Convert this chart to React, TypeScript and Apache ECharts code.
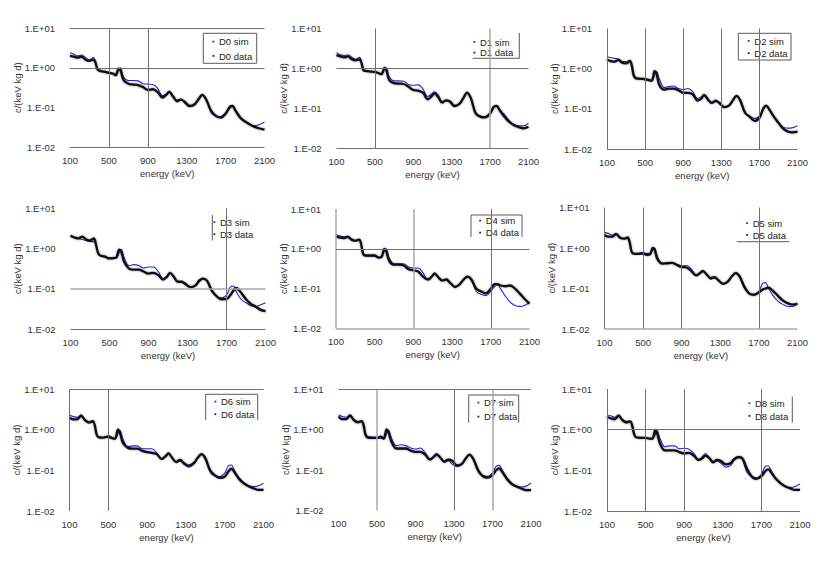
import React, { useEffect, useRef } from "react";
import * as echarts from "echarts";

// energy grid (keV) shared by all series
const energy = [100,140,180,220,260,300,340,360,380,400,450,500,540,570,600,620,650,700,750,800,850,900,950,1000,1050,1090,1120,1160,1200,1240,1280,1330,1380,1420,1460,1500,1550,1600,1650,1700,1740,1770,1800,1850,1900,1950,2000,2050,2100];

const sim0 = [2.4,2.2,2.0,2.1,1.8,1.6,1.8,1.5,0.95,0.85,0.8,0.75,0.72,0.66,0.9,1.0,0.6,0.48,0.48,0.47,0.4,0.39,0.38,0.31,0.2,0.22,0.26,0.2,0.155,0.165,0.13,0.105,0.12,0.16,0.21,0.17,0.075,0.062,0.06,0.075,0.11,0.115,0.09,0.06,0.045,0.037,0.035,0.038,0.043];
const data0 = [2.0,1.9,1.8,1.9,1.6,1.5,1.6,1.4,0.95,0.85,0.8,0.75,0.72,0.65,0.95,0.85,0.5,0.4,0.38,0.37,0.33,0.28,0.29,0.25,0.18,0.21,0.25,0.19,0.145,0.16,0.14,0.11,0.12,0.16,0.21,0.16,0.085,0.062,0.056,0.07,0.1,0.11,0.085,0.056,0.045,0.038,0.033,0.03,0.028];
const sim1 = [2.5,2.2,2.1,2.2,1.9,1.7,1.9,1.5,0.95,0.88,0.84,0.82,0.76,0.72,0.95,1.02,0.62,0.49,0.49,0.48,0.4,0.38,0.39,0.31,0.2,0.23,0.26,0.22,0.15,0.155,0.155,0.12,0.13,0.18,0.24,0.18,0.08,0.065,0.063,0.08,0.115,0.12,0.095,0.07,0.05,0.04,0.037,0.037,0.043];
const data1 = [2.15,2.0,1.9,2.0,1.7,1.6,1.7,1.4,0.9,0.87,0.84,0.82,0.76,0.72,1.04,0.9,0.51,0.43,0.42,0.41,0.35,0.29,0.28,0.25,0.17,0.2,0.24,0.19,0.14,0.16,0.15,0.115,0.13,0.18,0.25,0.18,0.075,0.062,0.06,0.075,0.11,0.115,0.09,0.062,0.046,0.038,0.034,0.032,0.035];
const sim2 = [1.95,1.9,1.8,1.75,1.5,1.5,1.6,1.3,0.75,0.6,0.55,0.53,0.5,0.5,0.7,0.85,0.55,0.34,0.36,0.37,0.32,0.3,0.32,0.27,0.18,0.2,0.23,0.18,0.14,0.15,0.14,0.11,0.12,0.16,0.21,0.16,0.08,0.065,0.058,0.065,0.1,0.12,0.1,0.065,0.045,0.035,0.033,0.034,0.038];
const data2 = [1.67,1.55,1.5,1.65,1.4,1.35,1.55,1.2,0.68,0.58,0.56,0.55,0.52,0.5,0.87,0.75,0.39,0.3,0.32,0.32,0.29,0.25,0.25,0.23,0.16,0.18,0.22,0.17,0.14,0.16,0.14,0.11,0.12,0.16,0.21,0.16,0.08,0.063,0.05,0.06,0.1,0.12,0.1,0.065,0.045,0.032,0.027,0.026,0.027];
const sim3 = [2.0,1.9,1.8,1.7,1.6,1.5,1.5,1.3,0.8,0.68,0.62,0.58,0.58,0.58,0.8,0.95,0.6,0.38,0.4,0.38,0.33,0.35,0.35,0.27,0.18,0.21,0.25,0.19,0.15,0.15,0.14,0.11,0.12,0.15,0.18,0.16,0.085,0.065,0.06,0.07,0.11,0.118,0.085,0.055,0.045,0.038,0.036,0.04,0.045];
const data3 = [2.1,1.9,1.8,2.0,1.7,1.6,1.8,1.3,0.82,0.68,0.64,0.57,0.58,0.6,0.95,0.85,0.47,0.32,0.3,0.3,0.27,0.24,0.25,0.22,0.17,0.2,0.25,0.2,0.15,0.15,0.13,0.11,0.12,0.16,0.18,0.16,0.09,0.065,0.055,0.056,0.07,0.09,0.105,0.08,0.055,0.042,0.036,0.03,0.028];
const sim4 = [2.3,2.1,2.0,2.1,1.8,1.6,1.7,1.3,0.8,0.7,0.65,0.65,0.62,0.62,0.9,1.0,0.6,0.42,0.42,0.42,0.35,0.33,0.33,0.25,0.17,0.2,0.24,0.19,0.16,0.17,0.14,0.11,0.13,0.17,0.2,0.16,0.085,0.072,0.067,0.085,0.115,0.125,0.1,0.065,0.046,0.038,0.036,0.038,0.045];
const data4 = [2.05,1.9,1.85,2.0,1.7,1.6,1.7,1.3,0.75,0.68,0.68,0.68,0.6,0.62,1.0,0.85,0.5,0.4,0.4,0.38,0.31,0.29,0.27,0.2,0.17,0.2,0.24,0.19,0.16,0.17,0.14,0.11,0.13,0.17,0.2,0.17,0.1,0.085,0.076,0.1,0.13,0.13,0.12,0.115,0.12,0.1,0.075,0.055,0.042];
const sim5 = [2.4,2.3,2.1,2.3,1.9,1.7,1.9,1.5,0.85,0.73,0.7,0.7,0.65,0.68,0.9,1.0,0.6,0.42,0.42,0.43,0.39,0.36,0.37,0.3,0.21,0.25,0.28,0.22,0.17,0.18,0.16,0.13,0.15,0.2,0.25,0.19,0.1,0.075,0.07,0.085,0.135,0.14,0.1,0.065,0.048,0.04,0.036,0.036,0.042];
const data5 = [2.1,1.9,1.9,2.2,1.8,1.7,1.8,1.4,0.83,0.73,0.72,0.75,0.7,0.7,1.0,0.9,0.52,0.41,0.42,0.43,0.38,0.34,0.33,0.27,0.21,0.24,0.27,0.22,0.18,0.19,0.16,0.13,0.15,0.2,0.24,0.2,0.11,0.075,0.07,0.08,0.095,0.1,0.105,0.085,0.065,0.05,0.043,0.04,0.042];
const sim6 = [2.3,2.1,2.0,2.3,1.8,1.5,1.7,1.3,0.8,0.68,0.64,0.64,0.6,0.6,0.8,0.95,0.6,0.38,0.4,0.4,0.34,0.34,0.34,0.27,0.19,0.23,0.27,0.2,0.16,0.17,0.14,0.12,0.14,0.2,0.25,0.19,0.09,0.072,0.07,0.085,0.13,0.135,0.1,0.065,0.05,0.042,0.04,0.042,0.048];
const data6 = [1.97,1.8,1.8,2.2,1.7,1.5,1.6,1.3,0.75,0.65,0.64,0.68,0.62,0.6,1.0,0.85,0.48,0.36,0.34,0.34,0.3,0.28,0.27,0.25,0.19,0.22,0.26,0.2,0.16,0.18,0.15,0.13,0.15,0.2,0.25,0.2,0.1,0.075,0.065,0.07,0.095,0.11,0.09,0.06,0.047,0.04,0.036,0.033,0.033];
const sim7 = [2.3,2.1,2.0,2.3,1.8,1.6,1.6,1.3,0.8,0.68,0.64,0.64,0.6,0.58,0.8,0.95,0.62,0.4,0.42,0.4,0.35,0.33,0.35,0.27,0.19,0.22,0.26,0.2,0.16,0.17,0.14,0.12,0.14,0.19,0.24,0.18,0.09,0.072,0.07,0.085,0.125,0.13,0.1,0.065,0.048,0.04,0.038,0.04,0.047];
const data7 = [2.1,1.8,1.8,2.2,1.7,1.5,1.6,1.3,0.75,0.64,0.62,0.62,0.67,0.6,1.0,0.85,0.5,0.34,0.34,0.34,0.3,0.28,0.28,0.24,0.18,0.21,0.24,0.2,0.16,0.18,0.17,0.13,0.14,0.19,0.24,0.19,0.1,0.07,0.065,0.075,0.1,0.11,0.09,0.06,0.045,0.039,0.035,0.032,0.032];
const sim8 = [2.3,2.2,2.0,2.3,1.8,1.6,1.6,1.2,0.75,0.65,0.63,0.62,0.6,0.58,0.75,0.95,0.6,0.38,0.4,0.4,0.34,0.35,0.33,0.26,0.18,0.22,0.26,0.2,0.15,0.17,0.15,0.12,0.13,0.18,0.22,0.19,0.09,0.07,0.065,0.08,0.125,0.13,0.1,0.063,0.047,0.04,0.038,0.04,0.046];
const data8 = [2.05,1.9,1.8,2.2,1.7,1.5,1.6,1.3,0.8,0.65,0.63,0.63,0.6,0.6,0.97,0.8,0.45,0.31,0.31,0.31,0.28,0.26,0.27,0.23,0.18,0.2,0.23,0.2,0.16,0.18,0.17,0.14,0.15,0.19,0.21,0.2,0.11,0.07,0.062,0.072,0.095,0.105,0.09,0.062,0.048,0.04,0.036,0.033,0.033];

const panelNames = ["D0", "D1", "D2", "D3", "D4", "D5", "D6", "D7", "D8"];
const simSeries = [sim0, sim1, sim2, sim3, sim4, sim5, sim6, sim7, sim8];
const dataSeries = [data0, data1, data2, data3, data4, data5, data6, data7, data8];

const xMin = 100;
const xMax = 2100;
const xStep = 400;
const yTicks = [0.01, 0.1, 1, 10];
const yTickLabels = ["1.E-02", "1.E-01", "1.E+00", "1.E+01"];

// reference lines (axis values) drawn in each panel
const vLinesDark = [[500, 900], [500], [100, 500, 900, 1300, 1700], [1700], [1700], [100, 500, 900, 1700], [100, 500], [1300], [100, 500, 900, 1700]];
const vLinesLight = [[], [1700], [], [], [100, 900], [], [], [500, 1700], []];
const hLinesDark = [[10, 1, 0.01], [1, 0.01], [0.01], [0.01], [1], [], [10], [10], [1, 0.01]];
const hLinesLight = [[], [], [], [0.1], [0.01], [0.01], [], [], []];

const FONT = "'Liberation Sans', Arial, sans-serif";
const FS = 9.5;
const TEXT = "#333";
const BLUE = "#2424e0";

// plot-area layout in pixels
const layout = [
  { l: 70, r: 264.5, t: 28, b: 147.5 },
  { l: 336.5, r: 528.5, t: 28.5, b: 148.5 },
  { l: 607, r: 797.5, t: 28.5, b: 149 },
  { l: 70.5, r: 265.5, t: 208.5, b: 329 },
  { l: 336, r: 529.5, t: 209, b: 328.5 },
  { l: 604.5, r: 797.5, t: 207.5, b: 329 },
  { l: 69.5, r: 263.5, t: 389, b: 511 },
  { l: 338.5, r: 531, t: 389, b: 510.5 },
  { l: 607, r: 800, t: 389, b: 511 },
];

const legendLayout = [
  { tx: 219, y1: 41.7, y2: 56, box: [203.3, 33.3, 256.7, 63.3], edges: "ltrb" },
  { tx: 480, y1: 42, y2: 52.7, box: [472.7, 33, 519.3, 58.3], edges: "rb" },
  { tx: 754.3, y1: 41, y2: 53.3, box: [738.3, 33.3, 791, 60], edges: "ltrb" },
  { tx: 220, y1: 222.3, y2: 234.3, box: [212.3, 215, 262, 240.5], edges: "l" },
  { tx: 485.7, y1: 220.7, y2: 232.7, box: [471, 215, 522, 237], edges: "ltr" },
  { tx: 752.7, y1: 223.3, y2: 235, box: [736.7, 215, 789.3, 241.7], edges: "b" },
  { tx: 221, y1: 401.7, y2: 414.3, box: [205.7, 394.3, 257.7, 420], edges: "ltr" },
  { tx: 484, y1: 402.7, y2: 416.7, box: [468.7, 395, 518.7, 422.7], edges: "ltr" },
  { tx: 755, y1: 403.3, y2: 416, box: [740, 396.7, 792.3, 422.7], edges: "r" },
];

function yLabel(v: number): string {
  for (let i = 0; i < yTicks.length; i++) {
    if (Math.abs(Math.log10(v) - Math.log10(yTicks[i])) < 0.01) return yTickLabels[i];
  }
  return "";
}

function buildOption() {
  const grid: any[] = [];
  const xAxis: any[] = [];
  const yAxis: any[] = [];
  const series: any[] = [];
  const graphic: any[] = [];

  panelNames.forEach((name, i) => {
    const p = layout[i];
    grid.push({ left: p.l, top: p.t, width: p.r - p.l, height: p.b - p.t });
    xAxis.push({
      type: "value",
      gridIndex: i,
      min: xMin,
      max: xMax,
      interval: xStep,
      axisLine: { show: false },
      axisTick: { show: false },
      splitLine: { show: false },
      axisLabel: { fontSize: FS, color: TEXT, fontFamily: FONT, margin: 8, formatter: (v: number) => String(v) },
      name: "energy (keV)",
      nameLocation: "middle",
      nameGap: 21,
      nameMoveOverlap: false,
      nameTextStyle: { fontSize: FS, color: TEXT, fontFamily: FONT },
    });
    yAxis.push({
      type: "log",
      logBase: 10,
      gridIndex: i,
      min: yTicks[0],
      max: yTicks[yTicks.length - 1],
      axisLine: { show: false },
      axisTick: { show: false },
      splitLine: { show: false },
      axisLabel: { fontSize: FS, color: TEXT, fontFamily: FONT, margin: 15, formatter: (v: number) => yLabel(v) },
      name: "c/(keV kg d)",
      nameLocation: "middle",
      nameGap: 48,
      nameMoveOverlap: false,
      nameRotate: 90,
      nameTextStyle: { fontSize: FS, color: TEXT, fontFamily: FONT },
    });

    const dark = { color: "#707070", width: 1, type: "solid" };
    const light = { color: "#a8a8a8", width: 1.5, type: "solid" };
    const mlData: any[] = [
      ...vLinesDark[i].map((v) => ({ xAxis: v, lineStyle: dark })),
      ...vLinesLight[i].map((v) => ({ xAxis: v, lineStyle: light })),
      ...hLinesDark[i].map((v) => ({ yAxis: v, lineStyle: dark })),
      ...hLinesLight[i].map((v) => ({ yAxis: v, lineStyle: light })),
    ];
    series.push({
      type: "line",
      name: name + " lines",
      xAxisIndex: i,
      yAxisIndex: i,
      data: [],
      z: 1,
      silent: true,
      markLine: { silent: true, symbol: ["none", "none"], label: { show: false }, data: mlData },
    });
    series.push({
      type: "line",
      name: name + " sim",
      xAxisIndex: i,
      yAxisIndex: i,
      data: energy.map((e, k) => [e, simSeries[i][k]]),
      showSymbol: false,
      smooth: 0.35,
      z: 2,
      lineStyle: { color: BLUE, width: 1.1 },
      itemStyle: { color: BLUE },
    });
    series.push({
      type: "line",
      name: name + " data",
      xAxisIndex: i,
      yAxisIndex: i,
      data: energy.map((e, k) => [e, dataSeries[i][k]]),
      showSymbol: false,
      smooth: 0.35,
      z: 3,
      lineStyle: { color: "#111", width: 2.3, shadowColor: "rgba(0,0,0,0.45)", shadowBlur: 2.5 },
      itemStyle: { color: "#111" },
    });

    const L = legendLayout[i];
    const [bl, bt, br, bb] = L.box;
    const edgeStyle = { stroke: "#5a5a5a", lineWidth: 1 };
    if (L.edges.includes("l")) graphic.push({ type: "line", shape: { x1: bl, y1: bt, x2: bl, y2: bb }, style: edgeStyle });
    if (L.edges.includes("r")) graphic.push({ type: "line", shape: { x1: br, y1: bt, x2: br, y2: bb }, style: edgeStyle });
    if (L.edges.includes("t")) graphic.push({ type: "line", shape: { x1: bl, y1: bt, x2: br, y2: bt }, style: edgeStyle });
    if (L.edges.includes("b")) graphic.push({ type: "line", shape: { x1: bl, y1: bb, x2: br, y2: bb }, style: edgeStyle });
    graphic.push({ type: "rect", shape: { x: L.tx - 6.5, y: L.y1 - 1, width: 1.8, height: 1.8 }, style: { fill: BLUE } });
    graphic.push({ type: "rect", shape: { x: L.tx - 6.5, y: L.y2 - 1, width: 1.8, height: 1.8 }, style: { fill: "#222" } });
    graphic.push({
      type: "text",
      x: L.tx,
      y: L.y1,
      style: { text: name + " sim", fill: "#222", fontSize: FS, fontFamily: FONT, verticalAlign: "middle", align: "left" },
    });
    graphic.push({
      type: "text",
      x: L.tx,
      y: L.y2,
      style: { text: name + " data", fill: "#222", fontSize: FS, fontFamily: FONT, verticalAlign: "middle", align: "left" },
    });
  });

  return {
    animation: false,
    backgroundColor: "#fff",
    grid,
    xAxis,
    yAxis,
    series,
    graphic,
  };
}

export default function App() {
  const ref = useRef<HTMLDivElement>(null);
  useEffect(() => {
    if (!ref.current) return;
    const chart = echarts.init(ref.current, null, { renderer: "svg" });
    chart.setOption(buildOption() as any);
    return () => chart.dispose();
  }, []);
  return (
    <div
      ref={ref}
      style={{ position: "fixed", left: 0, top: 0, width: 831, height: 563, background: "#fff" }}
    />
  );
}
